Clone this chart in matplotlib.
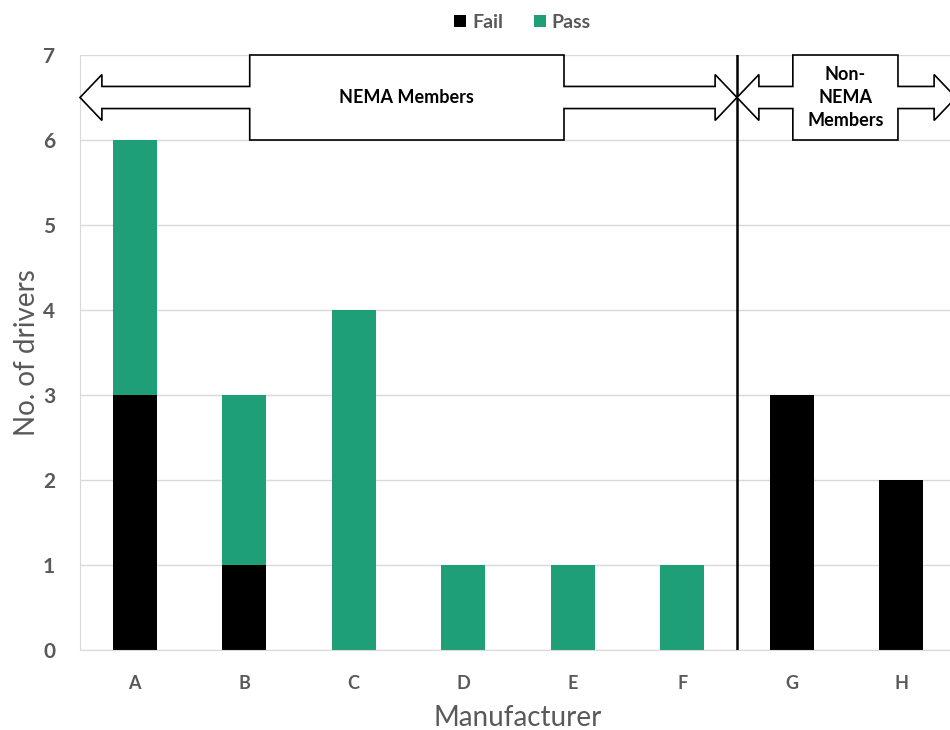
import matplotlib.pyplot as plt
from matplotlib.patches import Polygon

plt.rcParams['font.family'] = ['Lato', 'DejaVu Sans']

manufacturers = ["A", "B", "C", "D", "E", "F", "G", "H"]
fail = [3, 1, 0, 0, 0, 0, 3, 2]
passed = [3, 2, 4, 1, 1, 1, 0, 0]
# label, arrow span (first/last category), label box x-range
groups = [("NEMA Members", 0, 5, 1.05, 3.92),
          ("Non-\nNEMA\nMembers", 6, 7, 6.01, 6.97)]

GREEN = "#1E9F77"
GRAY = "#595959"

fig = plt.figure(figsize=(9.5, 7.3), dpi=100)
ax = fig.add_axes([80 / 950, 80 / 730, 876 / 950, 595 / 730])

x = list(range(len(manufacturers)))
ax.bar(x, fail, width=0.4, color="black", label="Fail", zorder=2)
ax.bar(x, passed, width=0.4, bottom=fail, color=GREEN, label="Pass", zorder=2)

ax.set_xlim(-0.5, len(manufacturers) - 0.5)
ax.set_ylim(0, 7)
ax.set_yticks(range(8))
ax.yaxis.grid(True, color="#d9d9d9", linewidth=1, zorder=0)
ax.set_axisbelow(True)
for s in ["top", "right"]:
    ax.spines[s].set_visible(False)
for s in ["left", "bottom"]:
    ax.spines[s].set_color("#d9d9d9")
ax.tick_params(length=0)
ax.tick_params(axis="y", pad=18, labelsize=15, labelcolor=GRAY)
ax.tick_params(axis="x", pad=18, labelsize=13, labelcolor=GRAY)
ax.set_xticks(x, manufacturers)
for lbl in ax.get_xticklabels() + ax.get_yticklabels():
    lbl.set_fontweight("bold")
ax.set_ylabel("No. of drivers", fontsize=20, color=GRAY, labelpad=2)
ax.set_xlabel("Manufacturer", fontsize=20, color=GRAY, labelpad=9)

# group divider
ax.axvline(5.5, color="black", linewidth=1.8, zorder=3)

# double-headed callout arrows
yc, sh, hh, hl = 6.5, 0.13, 0.27, 0.2
for label, i0, i1, bl, br in groups:
    left, right = i0 - 0.5, i1 + 0.5
    pts = [
        (left, yc), (left + hl, yc + hh), (left + hl, yc + sh), (bl, yc + sh),
        (bl, 7), (br, 7), (br, yc + sh), (right - hl, yc + sh), (right - hl, yc + hh),
        (right, yc), (right - hl, yc - hh), (right - hl, yc - sh), (br, yc - sh),
        (br, 6), (bl, 6), (bl, yc - sh), (left + hl, yc - sh), (left + hl, yc - hh),
    ]
    ax.add_patch(Polygon(pts, closed=True, facecolor="white", edgecolor="black",
                         linewidth=1.2, zorder=4, clip_on=False))
    ax.text((bl + br) / 2, yc, label, ha="center", va="center", fontsize=13,
            fontweight="bold", linespacing=1.45, zorder=5)

fig.legend(loc="upper center", bbox_to_anchor=(0.55, 1.005), ncol=2, frameon=False,
           handlelength=0.6, handleheight=0.6, handletextpad=0.3,
           columnspacing=1.6, labelcolor=GRAY, prop={"weight": "bold", "size": 14})

fig.savefig("out.png", dpi=100)
